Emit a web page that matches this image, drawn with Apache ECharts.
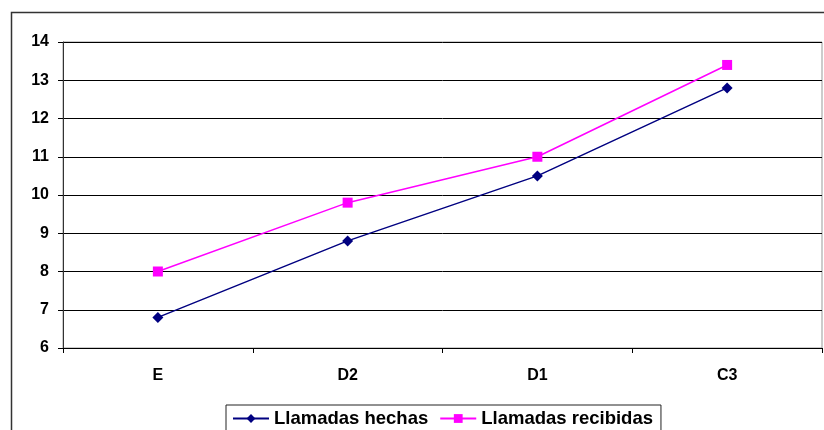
<!DOCTYPE html>
<html>
<head>
<meta charset="utf-8">
<script src="https://cdn.jsdelivr.net/npm/echarts@6/dist/echarts.min.js"></script>
<style>
  html, body { margin: 0; padding: 0; background: #fff; }
  #chart { width: 824px; height: 430px; }
</style>
</head>
<body>
<div id="chart"></div>
<script>
// Categories and values
const categories = ['E', 'D2', 'D1', 'C3'];
const llamadasHechas = [6.8, 8.8, 10.5, 12.8];
const llamadasRecibidas = [8.0, 9.8, 11.0, 13.4];
const seriesNames = ['Llamadas hechas', 'Llamadas recibidas'];

const font = '"Liberation Sans", Arial, sans-serif';
const chart = echarts.init(document.getElementById('chart'), null, { renderer: 'canvas' });

chart.setOption({
  animation: false,
  backgroundColor: '#fff',
  graphic: [
    {
      type: 'rect',
      shape: { x: 11.5, y: 12.5, width: 830, height: 430 },
      style: { fill: 'none', stroke: '#333', lineWidth: 1.5 },
      silent: true
    }
  ],
  grid: {
    left: 63, right: 2, top: 42, bottom: 82,
    show: true, borderColor: '#999', borderWidth: 1, backgroundColor: 'transparent'
  },
  legend: {
    bottom: -8,
    left: 226,
    itemWidth: 36,
    itemHeight: 11,
    itemGap: 11,
    padding: [4, 8, 10, 6],
    borderColor: '#222',
    borderWidth: 1,
    backgroundColor: '#fff',
    textStyle: { fontFamily: font, fontWeight: 'bold', fontSize: 18.5, color: '#000' },
    data: seriesNames
  },
  xAxis: {
    type: 'category',
    data: categories,
    boundaryGap: true,
    axisLine: { lineStyle: { color: '#000', width: 1 } },
    axisTick: { show: true, length: 5, lineStyle: { color: '#000' } },
    axisLabel: { fontFamily: font, fontWeight: 'bold', fontSize: 16, color: '#000', margin: 20 },
    splitLine: { show: false }
  },
  yAxis: {
    type: 'value',
    min: 6, max: 14, interval: 1,
    axisLine: { show: true, lineStyle: { color: '#333', width: 1 } },
    axisTick: { show: true, length: 5, lineStyle: { color: '#000' } },
    axisLabel: { fontFamily: font, fontWeight: 'bold', fontSize: 16, color: '#000', margin: 14 },
    splitLine: { show: true, lineStyle: { color: '#000', width: 1 } }
  },
  series: [
    {
      name: seriesNames[0],
      type: 'line',
      data: llamadasHechas,
      symbol: 'diamond',
      symbolSize: 11,
      itemStyle: { color: '#000080' },
      lineStyle: { color: '#000080', width: 1.5 }
    },
    {
      name: seriesNames[1],
      type: 'line',
      data: llamadasRecibidas,
      symbol: 'rect',
      symbolSize: 10,
      itemStyle: { color: '#ff00ff' },
      lineStyle: { color: '#ff00ff', width: 1.5 }
    }
  ]
});
</script>
</body>
</html>
